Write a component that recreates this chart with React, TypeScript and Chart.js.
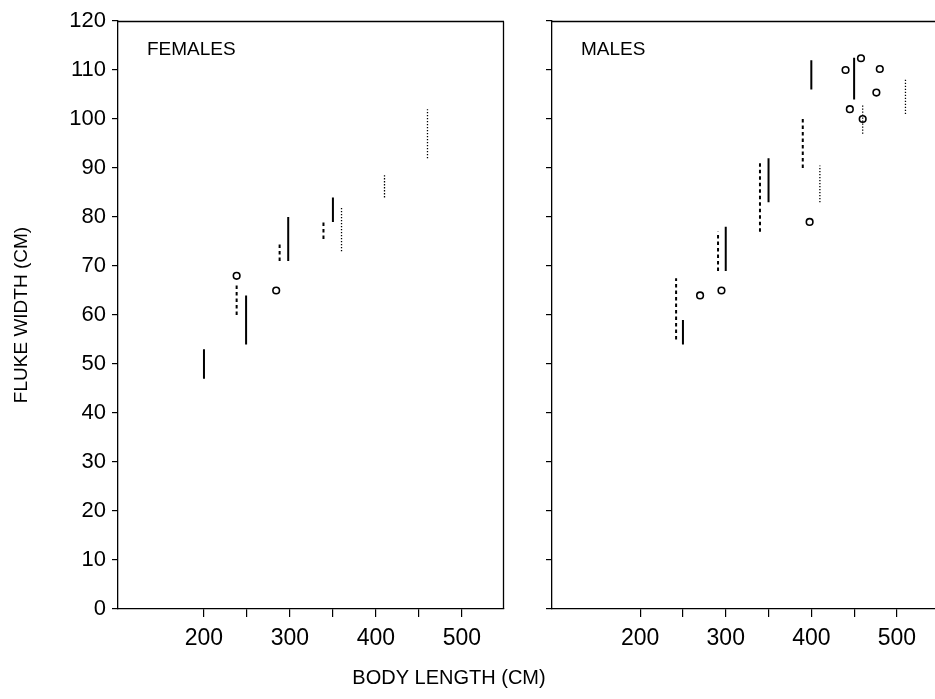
import React, { useEffect, useRef } from "react";
import { Chart, registerables } from "chart.js";

Chart.register(...registerables);

// Fluke width ranges by body length: [body length, low width, high width]
const femaleSolid = [[200, 47, 53], [249, 54, 64], [298, 71, 80], [350, 79, 84]];
const femaleDashed = [[238, 60, 66], [288, 71, 74.5], [339, 75.5, 79.5]];
const femaleDotted = [[360, 73, 82], [410, 84, 88.5], [460, 92, 102]];
const femaleCircles = [[238, 68], [284, 65]];

const maleSolid = [[250, 54, 59], [300, 69, 78], [350, 83, 92], [400, 106, 112], [450, 104, 112.5]];
const maleDashed = [[242, 55, 67.5], [291, 69, 77], [340, 77, 91], [390, 90, 100]];
const maleDotted = [[410, 83, 90.5], [460, 97, 103], [510, 101, 108]];
const maleCircles = [[270, 64], [295, 65], [398, 79], [440, 110], [445, 102], [458, 112.4], [460, 100], [476, 105.4], [480, 110.2]];

const xTickValues = [200, 250, 300, 350, 400, 450, 500];
const xTickLabels = ["200", "", "300", "", "400", "", "500"];
const yTickValues = [0, 10, 20, 30, 40, 50, 60, 70, 80, 90, 100, 110, 120];

const FONT = '"Liberation Sans", Arial, Helvetica, sans-serif';

function segments(list: number[][]) {
  const out: { x: number; y: number | null }[] = [];
  list.forEach(([x, lo, hi]) => {
    out.push({ x, y: lo }, { x, y: hi }, { x, y: null });
  });
  return out;
}

function buildDatasets(solid: number[][], dashed: number[][], dotted: number[][], circles: number[][]) {
  const seg = (data: any, dash: number[], width: number) => ({
    type: "scatter" as const,
    data,
    showLine: true,
    spanGaps: false,
    borderColor: "#000",
    borderWidth: width,
    borderDash: dash,
    borderCapStyle: "butt" as const,
    pointRadius: 0,
    pointHoverRadius: 0,
  });
  return [
    seg(segments(solid), [], 2),
    seg(segments(dashed), [3.5, 3], 2),
    seg(segments(dotted), [1.3, 1.7], 1.3),
    {
      type: "scatter" as const,
      data: circles.map(([x, y]) => ({ x, y })),
      showLine: false,
      pointStyle: "circle",
      pointRadius: 3.3,
      pointBorderWidth: 1.6,
      borderColor: "#000",
      backgroundColor: "rgba(255,255,255,0)",
    },
  ];
}

function framePlugin(label: string, drawRight: boolean, extendTop: boolean, xTitle?: string) {
  return {
    id: "panelFrame",
    afterDraw(chart: any) {
      const { ctx, chartArea } = chart;
      const { left, top, right } = chartArea;
      ctx.save();
      ctx.strokeStyle = "#000";
      ctx.lineWidth = 1.3;
      ctx.beginPath();
      const t = Math.round(top) + 0.5;
      ctx.moveTo(left, t);
      ctx.lineTo(extendTop ? chart.width : right, t);
      if (drawRight) {
        const r = Math.round(right) - 0.5;
        ctx.moveTo(r, t);
        ctx.lineTo(r, chartArea.bottom);
      }
      ctx.stroke();
      ctx.fillStyle = "#000";
      ctx.font = `19px ${FONT}`;
      ctx.textBaseline = "middle";
      ctx.textAlign = "left";
      ctx.fillText(label, left + 29, 50);
      if (xTitle) {
        ctx.textAlign = "center";
        ctx.font = `20px ${FONT}`;
        ctx.fillText(xTitle, 449, 678);
      }
      ctx.restore();
    },
  };
}

function panelOptions(showYLabels: boolean, xMin: number, xMax: number, yWidth: number, padRight: number) {
  return {
    responsive: false,
    animation: false as const,
    events: [],
    layout: { autoPadding: false, padding: { left: 0, top: 21, right: padRight, bottom: 0 } },
    plugins: { legend: { display: false }, tooltip: { enabled: false } },
    scales: {
      x: {
        type: "linear" as const,
        min: xMin,
        max: xMax,
        afterBuildTicks: (s: any) => {
          s.ticks = xTickValues.map((v) => ({ value: v }));
        },
        afterFit: (s: any) => {
          s.height = 90;
        },
        grid: { drawOnChartArea: false, drawTicks: true, tickLength: 8, color: "#000", lineWidth: 1.2 },
        border: { display: true, color: "#000", width: 1.3 },
        ticks: {
          autoSkip: false,
          maxRotation: 0,
          padding: 8,
          color: "#000",
          font: { family: FONT, size: 23 },
          callback: (v: any) => xTickLabels[xTickValues.indexOf(Number(v))] ?? "",
        },
      },
      y: {
        type: "linear" as const,
        min: 0,
        max: 120,
        afterBuildTicks: (s: any) => {
          s.ticks = yTickValues.map((v) => ({ value: v }));
        },
        afterFit: (s: any) => {
          s.width = yWidth;
        },
        grid: { drawOnChartArea: false, drawTicks: true, tickLength: 6, color: "#000", lineWidth: 1.2 },
        border: { display: true, color: "#000", width: 1.3 },
        title: showYLabels
          ? {
              display: true,
              text: "FLUKE WIDTH (CM)",
              color: "#000",
              font: { family: FONT, size: 19 },
              padding: { top: 10, bottom: 0 },
            }
          : { display: false },
        ticks: {
          autoSkip: false,
          padding: 6,
          color: "#000",
          font: { family: FONT, size: 22 },
          callback: (v: any) => (showYLabels ? String(v) : ""),
        },
      },
    },
  };
}

export default function App() {
  const leftRef = useRef<HTMLCanvasElement>(null);
  const rightRef = useRef<HTMLCanvasElement>(null);

  useEffect(() => {
    Chart.defaults.font.family = FONT;
    Chart.defaults.color = "#000";
    const females = new Chart(leftRef.current!, {
      type: "scatter",
      data: { datasets: buildDatasets(femaleSolid, femaleDashed, femaleDotted, femaleCircles) as any },
      options: panelOptions(true, 100, 549, 118, 56) as any,
      plugins: [framePlugin("FEMALES", true, false, "BODY LENGTH (CM)")],
    });
    const males = new Chart(rightRef.current!, {
      type: "scatter",
      data: { datasets: buildDatasets(maleSolid, maleDashed, maleDotted, maleCircles) as any },
      options: panelOptions(false, 97, 544.5, 32, 0) as any,
      plugins: [framePlugin("MALES", false, true)],
    });
    return () => {
      females.destroy();
      males.destroy();
    };
  }, []);

  return (
    <div style={{ position: "absolute", left: 0, top: 0, width: 935, height: 699, background: "#fff", overflow: "hidden" }}>
      <canvas ref={leftRef} width={560} height={699} style={{ position: "absolute", left: 0, top: 0 }} />
      <canvas ref={rightRef} width={415} height={699} style={{ position: "absolute", left: 520, top: 0 }} />
    </div>
  );
}
